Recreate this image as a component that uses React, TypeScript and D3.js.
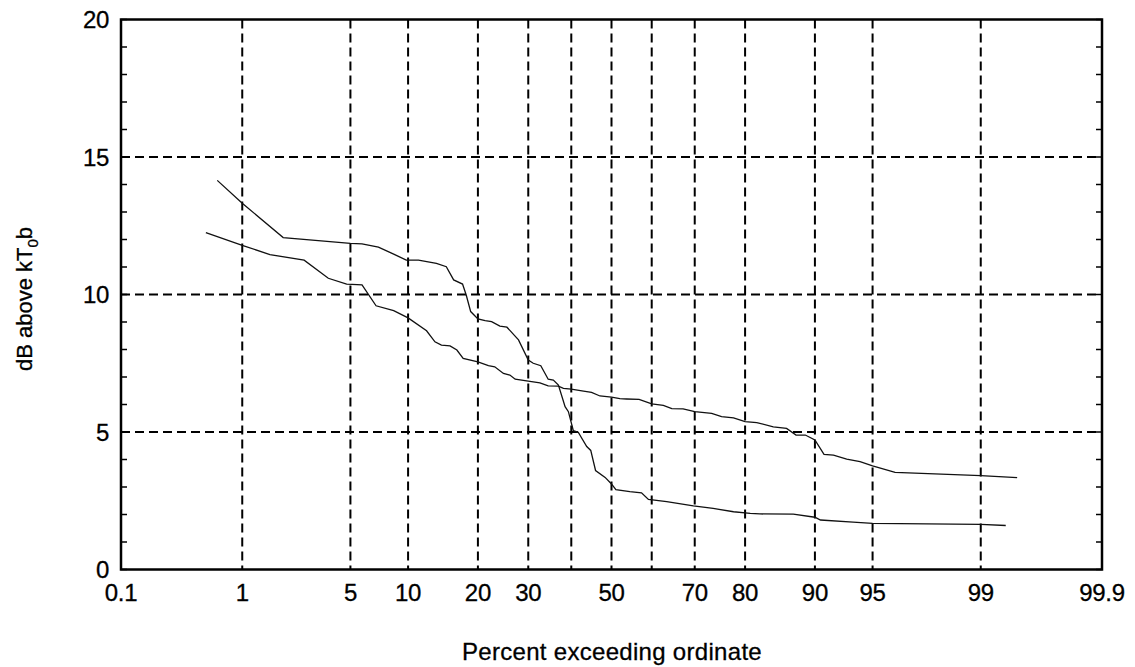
import React from 'react';
import * as d3 from 'd3';

// percent exceeding ordinate / dB above kT0b
const pctSteep = [0.65, 1.0, 1.93, 5.0, 5.8, 7.1, 8.5, 9.8, 11.2, 13.5, 14.9, 16.0, 17.4, 18.0, 18.75, 20.0, 21.3, 22.5, 24.1, 25.5, 27.9, 30.0, 31.1, 32.8, 34.5, 35.7, 36.9, 38.5, 39.3, 40.5, 41.7, 43.8, 44.8, 46.0, 48.4, 50.0, 51.1, 54.6, 57.5, 59.2, 63.6, 69.7, 73.9, 77.9, 80.9, 82.5, 87.4, 90.0, 90.6, 93.6, 95.0, 99.0, 99.35];
const dbSteep = [14.15, 13.32, 12.07, 11.86, 11.84, 11.72, 11.47, 11.25, 11.25, 11.13, 11.01, 10.53, 10.38, 9.98, 9.38, 9.11, 9.05, 9.01, 8.85, 8.81, 8.35, 7.62, 7.5, 7.41, 6.92, 6.89, 6.71, 5.92, 5.74, 5.05, 4.99, 4.47, 4.33, 3.6, 3.35, 3.11, 2.9, 2.83, 2.79, 2.55, 2.47, 2.31, 2.22, 2.1, 2.04, 2.02, 2.01, 1.9, 1.8, 1.72, 1.68, 1.64, 1.6];

const pctFlat = [0.53, 1.0, 1.57, 2.64, 3.72, 4.76, 5.8, 6.9, 8.5, 10.0, 12.2, 13.3, 14.2, 15.45, 16.5, 17.5, 20.0, 21.9, 23.1, 24.8, 26.1, 27.2, 30.0, 32.6, 34.5, 36.9, 38.1, 40.0, 43.0, 45.0, 47.1, 50.0, 52.1, 53.8, 56.9, 60.0, 62.8, 64.8, 67.4, 70.0, 73.6, 75.6, 77.9, 80.0, 82.0, 84.6, 86.5, 87.75, 88.9, 90.0, 90.97, 91.9, 93.08, 94.13, 95.0, 96.3, 99.0, 99.47];
const dbFlat = [12.25, 11.79, 11.45, 11.25, 10.59, 10.38, 10.35, 9.59, 9.41, 9.15, 8.68, 8.28, 8.16, 8.13, 7.98, 7.68, 7.55, 7.41, 7.37, 7.13, 7.07, 6.92, 6.85, 6.79, 6.68, 6.67, 6.59, 6.56, 6.49, 6.44, 6.31, 6.27, 6.21, 6.2, 6.19, 6.02, 5.97, 5.85, 5.84, 5.74, 5.68, 5.56, 5.51, 5.38, 5.34, 5.19, 5.13, 4.89, 4.89, 4.71, 4.19, 4.16, 4.01, 3.92, 3.77, 3.53, 3.41, 3.34];

const gridPct = [1, 5, 10, 20, 30, 40, 50, 60, 70, 80, 90, 95, 99];
const labelPct = [0.1, 1, 5, 10, 20, 30, 50, 70, 80, 90, 95, 99, 99.9];
const yTicks = [0, 5, 10, 15, 20];
const yMinor = d3.range(0, 21, 1);

// inverse normal cdf (Acklam)
const probit = (p: number) => {
  const a = [-39.69683028665376, 220.9460984245205, -275.9285104469687, 138.357751867269, -30.66479806614716, 2.506628277459239];
  const b = [-54.47609879822406, 161.5858368580409, -155.6989798598866, 66.80131188771972, -13.28068155288572];
  const c = [-0.007784894002430293, -0.3223964580411365, -2.400758277161838, -2.549732539343734, 4.374664141464968, 2.938163982698783];
  const d = [0.007784695709041462, 0.3224671290700398, 2.445134137142996, 3.754408661907416];
  const lo = 0.02425;
  if (p < lo) {
    const q = Math.sqrt(-2 * Math.log(p));
    return (((((c[0] * q + c[1]) * q + c[2]) * q + c[3]) * q + c[4]) * q + c[5]) / ((((d[0] * q + d[1]) * q + d[2]) * q + d[3]) * q + 1);
  }
  if (p > 1 - lo) return -probit(1 - p);
  const q = p - 0.5;
  const r = q * q;
  return (((((a[0] * r + a[1]) * r + a[2]) * r + a[3]) * r + a[4]) * r + a[5]) * q / (((((b[0] * r + b[1]) * r + b[2]) * r + b[3]) * r + b[4]) * r + 1);
};

const W = 1135;
const H = 667;
const left = 121, right = 1102, top = 19.5, bottom = 569.5;
const font = '"Liberation Sans", Arial, Helvetica, sans-serif';

const App = () => {
  const z = d3.scaleLinear().domain([probit(0.001), probit(0.999)]).range([left, right]);
  const x = (pct: number) => z(probit(pct / 100));
  const y = d3.scaleLinear().domain([0, 20]).range([bottom, top]);

  const line = d3.line<[number, number]>().x(d => x(d[0])).y(d => y(d[1]));
  const steep = line(pctSteep.map((p, i) => [p, dbSteep[i]] as [number, number])) || '';
  const flat = line(pctFlat.map((p, i) => [p, dbFlat[i]] as [number, number])) || '';

  return (
    <svg width={W} height={H} style={{ position: 'absolute', left: 0, top: 0, background: '#fff' }} fontFamily={font}>
      {/* grid */}
      {gridPct.map(p => (
        <line key={'gx' + p} x1={x(p)} x2={x(p)} y1={top} y2={bottom} stroke="#000" strokeWidth={2} strokeDasharray="9,5" />
      ))}
      {[5, 10, 15].map(v => (
        <line key={'gy' + v} x1={left} x2={right} y1={y(v)} y2={y(v)} stroke="#000" strokeWidth={2} strokeDasharray="9,5" />
      ))}
      {/* minor ticks */}
      {yMinor.map(v => (
        <g key={'m' + v}>
          <line x1={left} x2={left + 6} y1={y(v)} y2={y(v)} stroke="#000" strokeWidth={1.5} />
          <line x1={right} x2={right - 6} y1={y(v)} y2={y(v)} stroke="#000" strokeWidth={1.5} />
        </g>
      ))}
      {/* data */}
      <path d={steep} fill="none" stroke="#111" strokeWidth={1.3} />
      <path d={flat} fill="none" stroke="#111" strokeWidth={1.3} />
      {/* frame */}
      <rect x={left} y={top} width={right - left} height={bottom - top} fill="none" stroke="#000" strokeWidth={2.5} />
      {/* tick labels */}
      <g fill="#000" stroke="#000" strokeWidth={0.3}>
        {labelPct.map(p => (
          <text key={'lx' + p} x={x(p)} y={601} textAnchor="middle" fontSize={24} letterSpacing={-0.3}>{p}</text>
        ))}
        {yTicks.map(v => (
          <text key={'ly' + v} x={109} y={y(v)} dy="0.36em" textAnchor="end" fontSize={24} letterSpacing={-0.3}>{v}</text>
        ))}
        <text x={612} y={660} textAnchor="middle" fontSize={24} letterSpacing={0.3}>Percent exceeding ordinate</text>
        <text transform="translate(32,299) rotate(-90)" textAnchor="middle" fontSize={22}>
          dB above kT<tspan fontSize={15} dy={6}>0</tspan><tspan dy={-6}>b</tspan>
        </text>
      </g>
    </svg>
  );
};

export default App;
